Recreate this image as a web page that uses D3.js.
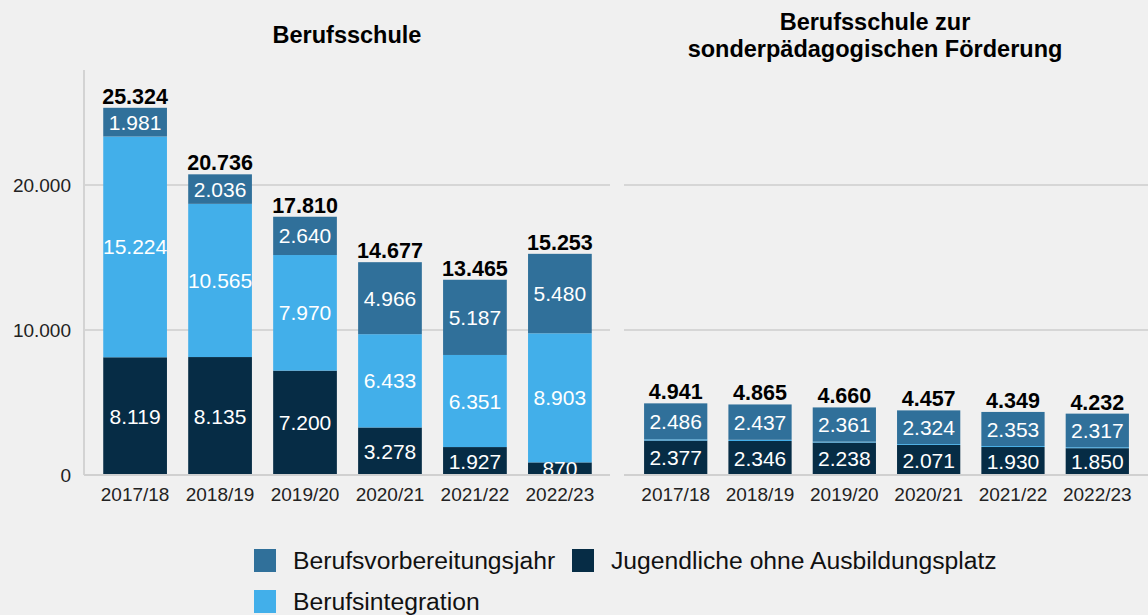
<!DOCTYPE html>
<html><head><meta charset="utf-8">
<script src="https://cdn.jsdelivr.net/npm/d3@7"></script>
<style>
html,body{margin:0;padding:0;background:#f0f0f0;}
svg{display:block;font-family:"Liberation Sans",Arial,sans-serif;}
</style></head>
<body><svg id="c" width="1148" height="615"></svg>
<script>
const years = ["2017/18","2018/19","2019/20","2020/21","2021/22","2022/23"];
const seriesNames = ["Jugendliche ohne Ausbildungsplatz","Berufsintegration","Berufsvorbereitungsjahr"];
const seriesColors = ["#062c45","#42afea","#30709a"];
// Berufsschule
const bsJoA = [8119, 8135, 7200, 3278, 1927, 870];
const bsBI  = [15224, 10565, 7970, 6433, 6351, 8903];
const bsBVJ = [1981, 2036, 2640, 4966, 5187, 5480];
const bsTotal = [25324, 20736, 17810, 14677, 13465, 15253];
// Berufsschule zur sonderpädagogischen Förderung
const sfJoA = [2377, 2346, 2238, 2071, 1930, 1850];
const sfBI  = [78, 82, 61, 62, 66, 65];
const sfBVJ = [2486, 2437, 2361, 2324, 2353, 2317];
const sfTotal = [4941, 4865, 4660, 4457, 4349, 4232];
const yTicks = [0, 10000, 20000];

const loc = d3.formatLocale({decimal:",", thousands:".", grouping:[3], currency:["","€"]});
const fmt = loc.format(",d");

const svg = d3.select("#c");
const y = d3.scaleLinear().domain([0, 28000]).range([475, 69]);

const panels = [
  {title:["Berufsschule"], tx:347, ty:[43], range:[82,613], grid:[84,610], joa:bsJoA, bi:bsBI, bvj:bsBVJ, total:bsTotal, labelBI:true, yaxis:true},
  {title:["Berufsschule zur","sonderpädagogischen Förderung"], tx:875, ty:[30,57], range:[623,1150], grid:[624,1148], joa:sfJoA, bi:sfBI, bvj:sfBVJ, total:sfTotal, labelBI:false, yaxis:false}
];

svg.append("defs").append("clipPath").attr("id","plotclip")
  .append("rect").attr("x",0).attr("y",0).attr("width",1148).attr("height",y(0)-1);

panels.forEach((p,pi)=>{
  const x = d3.scaleBand().domain(years).range(p.range).padding(0.25);
  const g = svg.append("g");
  g.selectAll("line.grid").data(yTicks.filter(t=>t>0)).join("line")
    .attr("x1",p.grid[0]).attr("x2",p.grid[1])
    .attr("y1",d=>y(d)).attr("y2",d=>y(d))
    .attr("stroke","#d6d6d6").attr("stroke-width",2);
  if (p.yaxis) {
    g.append("line").attr("x1",p.grid[0]).attr("x2",p.grid[0])
      .attr("y1",y(28000)+1).attr("y2",y(0))
      .attr("stroke","#d3d3d3").attr("stroke-width",2);
    const ya = d3.axisLeft(y).tickValues(yTicks).tickFormat(fmt).tickSize(0).tickPadding(0);
    const ag = g.append("g").attr("transform","translate(71,0)").call(ya);
    ag.select(".domain").remove();
    ag.selectAll("text").attr("font-size",19).attr("fill","#222")
      .attr("font-family","'Liberation Sans',Arial,sans-serif");
  }
  const rows = years.map((yr,i)=>({year:yr, joa:p.joa[i], bi:p.bi[i], bvj:p.bvj[i], total:p.total[i]}));
  const stack = d3.stack().keys(["joa","bi","bvj"])(rows);
  const layers = g.selectAll("g.layer").data(stack).join("g")
    .attr("fill",(d,i)=>seriesColors[i]);
  layers.selectAll("rect").data(d=>d).join("rect")
    .attr("x",d=>x(d.data.year)).attr("width",x.bandwidth())
    .attr("y",d=>y(d[1])).attr("height",d=>y(d[0])-y(d[1]));
  const lg = g.append("g").attr("clip-path","url(#plotclip)");
  stack.forEach((layer,li)=>{
    if (layer.key==="bi" && !p.labelBI) return;
    lg.selectAll(null).data(layer).join("text")
      .attr("x",d=>x(d.data.year)+x.bandwidth()/2)
      .attr("y",d=>(y(d[0])+y(d[1]))/2)
      .attr("dy","0.36em")
      .attr("text-anchor","middle").attr("fill","#fff").attr("font-size",21)
      .text(d=>fmt(d[1]-d[0]));
  });
  g.selectAll("text.tot").data(rows).join("text").attr("class","tot")
    .attr("x",d=>x(d.year)+x.bandwidth()/2).attr("y",d=>y(d.total)-4)
    .attr("text-anchor","middle").attr("font-size",21.5).attr("font-weight","bold").attr("fill","#000")
    .text(d=>fmt(d.total));
  g.append("line").attr("x1",p.grid[0]).attr("x2",p.grid[1])
    .attr("y1",y(0)).attr("y2",y(0)).attr("stroke","#d0d0d0").attr("stroke-width",2);
  const xa = d3.axisBottom(x).tickSize(0).tickPadding(0);
  const xg = g.append("g").attr("transform","translate(0,487)").call(xa);
  xg.select(".domain").remove();
  xg.selectAll("text").attr("font-size",19).attr("fill","#222").attr("dy","0.76em")
    .attr("font-family","'Liberation Sans',Arial,sans-serif");
  p.title.forEach((t,ti)=>{
    svg.append("text").attr("x",p.tx).attr("y",p.ty[ti]).attr("text-anchor","middle")
      .attr("font-size",23.5).attr("font-weight","bold").attr("fill","#000").text(t);
  });
});

const legendItems = [
  {name:seriesNames[2], color:seriesColors[2], x:254, y:549},
  {name:seriesNames[0], color:seriesColors[0], x:572, y:549},
  {name:seriesNames[1], color:seriesColors[1], x:254, y:590}
];
const leg = svg.append("g");
legendItems.forEach(it=>{
  leg.append("rect").attr("x",it.x).attr("y",it.y).attr("width",22).attr("height",23).attr("fill",it.color);
  leg.append("text").attr("x",it.x+39).attr("y",it.y+19.5).attr("font-size",24.7).attr("fill","#111").text(it.name);
});
</script></body></html>
